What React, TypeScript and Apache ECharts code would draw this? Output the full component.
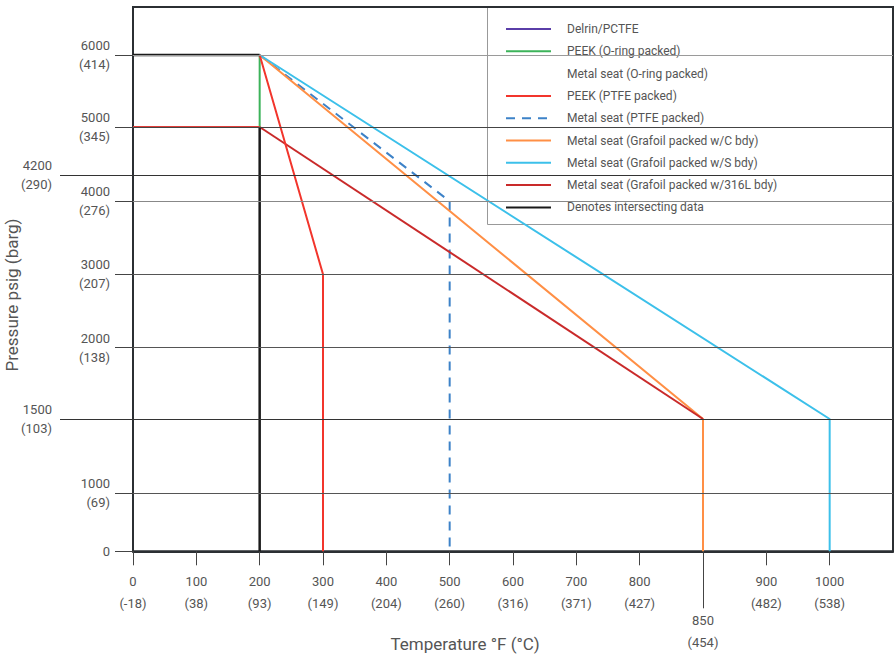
import React, { useEffect, useRef } from "react";
import * as echarts from "echarts";

// ---- Axis tick definitions ----
const TEMP_F_TICKS = [0, 100, 200, 300, 400, 500, 600, 700, 800, 850, 900, 1000];
const TEMP_C_TICKS = ["-18", "38", "93", "149", "204", "260", "316", "371", "427", "454", "482", "538"];
const PRESS_PSIG_TICKS = [0, 1000, 1500, 2000, 3000, 4000, 4200, 5000, 6000];
const PRESS_BARG_TICKS = ["0", "69", "103", "138", "207", "276", "290", "345", "414"];

// Non-linear chart scale: pressure ticks are placed on these scale positions
const PRESS_SCALE_POS = [0, 58.3, 132.3, 203.6, 277, 350, 376.3, 424.3, 496.3];
const PRESS_SCALE_MAX = 544.3;
const TEMP_SCALE_MAX = 12;

// ---- Series (°F, psig) ----
const SERIES_NAMES = [
  "Delrin/PCTFE",
  "PEEK (O-ring packed)",
  "Metal seat (O-ring packed)",
  "PEEK (PTFE packed)",
  "Metal seat (PTFE packed)",
  "Metal seat (Grafoil packed w/C bdy)",
  "Metal seat (Grafoil packed w/S bdy)",
  "Metal seat (Grafoil packed w/316L bdy)",
  "Denotes intersecting data",
];
const delrin: number[][] = [];
const peekOring = [[200, 6000], [200, 5000]];
const metalOring: number[][] = [];
const peekPtfe = [[200, 6000], [300, 3000], [300, 0]];
const peekPtfeLeft = [[0, 5000], [200, 5000]];
const metalPtfe = [[200, 6000], [500, 4000], [500, 0]];
const grafoilC = [[200, 6000], [850, 1500], [850, 0]];
const grafoilS = [[200, 6000], [1000, 1500], [1000, 0]];
const grafoil316 = [[200, 5000], [850, 1500]];
const intersectTop = [[0, 6000], [200, 6000]];
const intersectVert = [[200, 5000], [200, 0]];

function interp(v: number, xs: number[], ys: number[]) {
  for (let i = 0; i < xs.length - 1; i++) {
    if (v >= xs[i] && v <= xs[i + 1]) {
      const t = (v - xs[i]) / (xs[i + 1] - xs[i]);
      return ys[i] + t * (ys[i + 1] - ys[i]);
    }
  }
  return v < xs[0] ? ys[0] : ys[ys.length - 1];
}
const tempIdx = TEMP_F_TICKS.map((_, i) => i);
const fx = (f: number) => interp(f, TEMP_F_TICKS, tempIdx);
const fy = (p: number) => interp(p, PRESS_PSIG_TICKS, PRESS_SCALE_POS);
const conv = (arr: number[][]) => arr.map(([f, p]) => [fx(f), fy(p)]);

const GRID_COLORS: Record<number, string> = {
  0: "#444", 1000: "#555", 1500: "#333", 2000: "#555", 3000: "#555",
  4000: "#888", 4200: "#333", 5000: "#444", 6000: "#9a9a9a",
};

export default function App() {
  const ref = useRef<HTMLDivElement>(null);
  useEffect(() => {
    if (!ref.current) return;
    const chart = echarts.init(ref.current, undefined, { renderer: "svg" });

    const xMain = [0, 1, 2, 3, 4, 5, 6, 7, 8, 10, 11].map((i) => fx(TEMP_F_TICKS[i]));
    const xLong = [fx(850)];
    const yMain = [0, 1000, 2000, 3000, 4000, 5000, 6000].map(fy);
    const yLong = [1500, 4200].map(fy);

    const xFmt = (v: number) => {
      const i = Math.round(v);
      return `${TEMP_F_TICKS[i]}\n(${TEMP_C_TICKS[i]})`;
    };
    const yFmt = (v: number) => {
      let i = 0;
      let best = Infinity;
      PRESS_PSIG_TICKS.forEach((p, k) => {
        const d = Math.abs(fy(p) - v);
        if (d < best) { best = d; i = k; }
      });
      if (PRESS_PSIG_TICKS[i] === 0) return "0";
      return `${PRESS_PSIG_TICKS[i]}\n(${PRESS_BARG_TICKS[i]})`;
    };

    const txt = { color: "#555", fontFamily: "Roboto", fontSize: 13 };
    const line = (name: string, data: number[][], color: string, extra: any = {}) => ({
      type: "line",
      name,
      data: conv(data),
      symbol: "none",
      z: 3,
      lineStyle: { color, width: 2, ...extra },
      itemStyle: { color },
      emphasis: { disabled: true },
    });

    chart.setOption({
      animation: false,
      textStyle: { fontFamily: "Roboto" },
      grid: {
        left: 133, right: 3, top: 7, bottom: 654 - 551.3,
        show: true, borderColor: "#2b2f33", borderWidth: 2, backgroundColor: "transparent",
      },
      xAxis: [
        {
          type: "value", min: 0, max: TEMP_SCALE_MAX, position: "bottom",
          axisLine: { show: true, lineStyle: { color: "#2b2f33", width: 2 } },
          axisTick: { show: true, customValues: xMain, length: 14, lineStyle: { color: "#444" } },
          axisLabel: { show: true, customValues: xMain, formatter: xFmt, margin: 19, lineHeight: 22, ...txt },
          splitLine: { show: false },
        },
        {
          type: "value", min: 0, max: TEMP_SCALE_MAX, position: "bottom", offset: 0,
          axisLine: { show: false },
          axisTick: { show: true, customValues: xLong, length: 57, lineStyle: { color: "#444" } },
          axisLabel: { show: true, customValues: xLong, formatter: xFmt, margin: 58, lineHeight: 22, ...txt },
          splitLine: { show: false },
        },
      ],
      yAxis: [
        {
          type: "value", min: 0, max: PRESS_SCALE_MAX, position: "left",
          axisLine: { show: false },
          axisTick: { show: true, customValues: yMain, length: 18, lineStyle: { color: "#444" } },
          axisLabel: { show: true, customValues: yMain, formatter: yFmt, margin: 23, lineHeight: 19, align: "right", ...txt },
          splitLine: { show: false },
        },
        {
          type: "value", min: 0, max: PRESS_SCALE_MAX, position: "left", offset: 0,
          axisLine: { show: false },
          axisTick: { show: true, customValues: yLong, length: 73, lineStyle: { color: "#333" } },
          axisLabel: { show: true, customValues: yLong, formatter: yFmt, margin: 81, lineHeight: 19, align: "right", ...txt },
          splitLine: { show: false },
        },
      ],
      legend: {
        data: SERIES_NAMES,
        orient: "vertical",
        left: 500,
        top: 18,
        itemWidth: 45,
        itemHeight: 14,
        itemGap: 10.3,
        selectedMode: false,
        z: 4,
        itemStyle: { opacity: 0 },
        textStyle: { color: "#555", fontSize: 12, fontFamily: "Roboto", padding: [0, 0, 0, 11] },
      },
      graphic: [
        { type: "rect", z: 2, silent: true, shape: { x: 488, y: 8, width: 404, height: 216 }, style: { fill: "#fff" } },
        {
          type: "polyline", z: 2, silent: true,
          shape: { points: [[487.5, 8], [487.5, 224.5], [892, 224.5]] },
          style: { stroke: "#999", lineWidth: 1, fill: null },
        },
        {
          type: "text", x: 12, y: 295, rotation: Math.PI / 2, silent: true,
          style: { text: "Pressure psig (barg)", fill: "#555", font: "17px Roboto", align: "center", verticalAlign: "middle" },
        },
        {
          type: "text", x: 465, y: 644, silent: true,
          style: { text: "Temperature °F (°C)", fill: "#555", font: "17px Roboto", align: "center", verticalAlign: "middle" },
        },
      ],
      series: [
        {
          type: "line", name: "_grid", data: [], z: 1, silent: true, symbol: "none",
          markLine: {
            silent: true, symbol: ["none", "none"], animation: false,
            label: { show: false },
            emphasis: { disabled: true },
            data: PRESS_PSIG_TICKS.filter((p) => p !== 0).map((p) => ({
              yAxis: fy(p),
              lineStyle: { color: GRID_COLORS[p], width: 1, type: "solid" },
            })),
          },
        },
        line(SERIES_NAMES[0], delrin, "#5a3ea8"),
        line(SERIES_NAMES[1], peekOring, "#3cb35a"),
        line(SERIES_NAMES[2], metalOring, "rgba(255,255,255,0)"),
        line(SERIES_NAMES[4], metalPtfe, "#3d82c8", { type: [9, 7] }),
        line(SERIES_NAMES[5], grafoilC, "#ff8f45"),
        line(SERIES_NAMES[6], grafoilS, "#3cc0ea"),
        line(SERIES_NAMES[7], grafoil316, "#c92a2a"),
        line(SERIES_NAMES[3], peekPtfe, "#f2352c"),
        line(SERIES_NAMES[3], peekPtfeLeft, "#e23e3a"),
        line(SERIES_NAMES[8], intersectTop, "#1a1a1a", { width: 2.5 }),
        line(SERIES_NAMES[8], intersectVert, "#1a1a1a", { width: 2.5 }),
      ],
    });
    return () => chart.dispose();
  }, []);
  return <div ref={ref} style={{ position: "absolute", left: 0, top: 0, width: 896, height: 654 }} />;
}
